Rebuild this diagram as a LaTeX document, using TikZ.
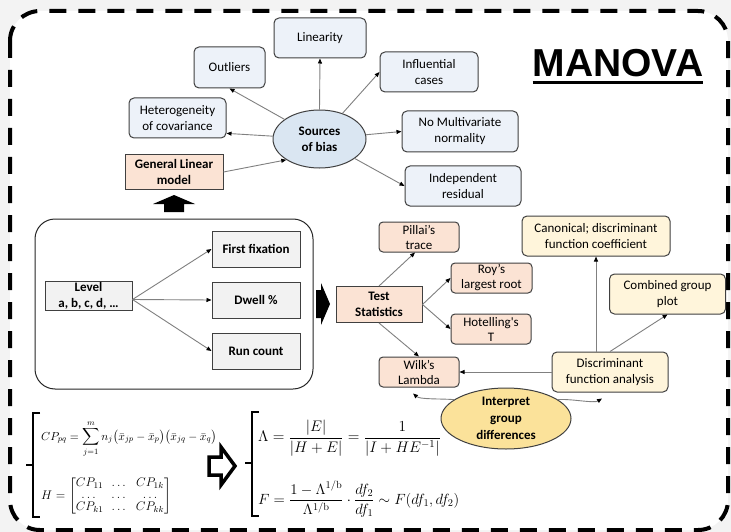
\RequirePackage{fix-cm}
\documentclass[tikz,border=0pt]{standalone}
\usepackage[no-math]{fontspec}
\usepackage{amsmath}
\setmainfont{Carlito}
\newfontfamily\titlefont{Liberation Sans}
\usetikzlibrary{arrows.meta,shapes.geometric,calc}

\definecolor{bggray}{HTML}{F3F3F3}
\definecolor{lightblue}{HTML}{EDF2F9}
\definecolor{biasblue}{HTML}{DAE6F2}
\definecolor{peach}{HTML}{FBE3D4}
\definecolor{lightgrayfill}{HTML}{F2F2F2}
\definecolor{lightyellow}{HTML}{FFF5DB}
\definecolor{gold}{HTML}{FBE29A}
\definecolor{edgegray}{HTML}{404040}
\definecolor{linegray}{HTML}{808080}

\newcommand\boxfont{\fontsize{13}{16}\selectfont}
\newcommand\smallboxfont{\fontsize{13}{15}\selectfont}

\tikzset{
  sz/.style 2 args={minimum width=#1, minimum height=#2},
  conn/.style={draw=linegray, line width=0.9pt,
    -{Triangle[length=5pt,width=4pt,color=black]}},
  box/.style={draw=edgegray, line width=1pt, align=center, inner sep=1pt, font=\boxfont},
  bluebox/.style={box, fill=lightblue, rounded corners=5pt},
  peachsq/.style={box, fill=peach, font=\boxfont\bfseries},
  peachr/.style={box, fill=peach, rounded corners=4pt, font=\smallboxfont},
  graysq/.style={box, fill=lightgrayfill, font=\boxfont\bfseries},
  yellowbox/.style={box, fill=lightyellow, rounded corners=5pt},
  oval/.style={ellipse, draw=edgegray, line width=1pt, align=center, inner sep=0pt,
    font=\boxfont\bfseries},
  blockarrow/.style={fill=black},
  brace/.style={draw=black, line width=1.1pt},
  formula/.style={inner sep=0pt},
}

\begin{document}
\begin{tikzpicture}[x=1pt,y=-1pt]
  % page and dashed frame
  \fill[bggray] (0,0) rectangle (731,532);
  \fill[white, rounded corners=30pt] (10,11) rectangle (728,530);
  \draw[black, line width=4pt, dash pattern=on 17pt off 12pt, rounded corners=30pt]
    (10,11) rectangle (728,530);
  \useasboundingbox (0,0) rectangle (731,532);

  % title
  \node[inner sep=0pt, anchor=base, font=\titlefont\bfseries\fontsize{39}{40}\selectfont]
    (title) at (618,77) {MANOVA};
  \draw[line width=3.5pt] ($(title.base west)+(0,5.5)$) -- ($(title.base east)+(0,5.5)$);

  % sources of bias
  \node[oval, fill=biasblue, sz={93}{58}] (src) at (319.5,139) {Sources\\of bias};
  \node[bluebox, sz={92}{40}] (lin) at (320,38) {Linearity};
  \node[bluebox, sz={71}{41}] (out) at (229.5,67.5) {Outliers};
  \node[bluebox, sz={98}{40}] (infl) at (429,72) {Influential\\cases};
  \node[bluebox, sz={97}{40}] (het) at (177.5,118) {Heterogeneity\\of covariance};
  \node[bluebox, sz={116}{41}] (norm) at (460,131.5) {No Multivariate\\normality};
  \node[bluebox, sz={116}{40}] (indep) at (463,186) {Independent\\residual};
  \node[peachsq, sz={98}{34}] (glm) at (174,172) {General Linear\\model};

  \draw[conn] (src.north) -- (lin.south);
  \draw[conn] (src) -- (out.south);
  \draw[conn] (src) -- ($(het.east)!0.75!(het.south east)$);
  \draw[conn] (src) -- (infl.west);
  \draw[conn] (src) -- (norm.west);
  \draw[conn] (src) -- (indep.west);
  \draw[conn] (glm.east) -- (src.south west);

  % up block arrow
  \fill[blockarrow] (164,212) -- (184,212) -- (184,204) -- (195,204) -- (174,195)
    -- (153,204) -- (164,204) -- cycle;

  % dependent variables group
  \node[draw=black!85, line width=1pt, rounded corners=20pt, sz={278}{170}] (grp) at (174,304) {};
  \node[graysq, sz={87}{27}] (lvl) at (88.5,296) {Level\\a, b, c, d, \dots};
  \node[graysq, sz={88}{36}] (ff) at (256,249) {First fixation};
  \node[graysq, sz={88}{36}] (dw) at (256,300) {Dwell \%};
  \node[graysq, sz={88}{36}] (rc) at (256,351) {Run count};
  \coordinate (lvlout) at ($(lvl.east)+(0,3.5)$);
  \draw[conn] (lvlout) -- (ff.west);
  \draw[conn] (lvlout) -- (dw.west);
  \draw[conn] (lvlout) -- (rc.west);

  % right block arrow
  \fill[blockarrow] (316,290) -- (321,290) -- (321,283) -- (330,304) -- (321,325)
    -- (321,318) -- (316,318) -- cycle;

  % test statistics
  \node[peachsq, sz={86}{36}] (ts) at (379,304.5) {Test\\Statistics};
  \node[peachr, sz={80}{30}] (pil) at (419,237) {Pillai’s\\trace};
  \node[peachr, sz={81}{30}] (roy) at (491.5,278) {Roy’s\\largest root};
  \node[peachr, sz={80}{30}] (hot) at (491,329) {Hotelling\textquotesingle s\\T};
  \node[peachr, sz={80}{30}] (wil) at (419,372) {Wilk’s\\Lambda};
  \draw[conn] (ts.north) -- ($(pil.south)+(-4,0)$);
  \draw[conn] (ts.east) -- (roy.west);
  \draw[conn] (ts.east) -- (hot.west);
  \draw[conn] (ts.south) -- (wil.north);

  % discriminant analysis
  \node[yellowbox, sz={148}{40}] (can) at (596,236) {Canonical; discriminant\\function coefficient};
  \node[yellowbox, sz={116}{40}] (comb) at (667.5,294) {Combined group\\plot};
  \node[yellowbox, sz={116}{40}] (dfa) at (610,372) {Discriminant\\function analysis};
  \draw[conn] (dfa.west) -- (wil.east);
  \draw[conn] (can.south |- dfa.north) -- (can.south);
  \draw[conn] (dfa.north) -- (comb.south);

  % interpretation
  \node[oval, fill=gold, sz={130}{61}, font=\fontsize{13}{17}\selectfont\bfseries]
    (int) at (506,418.5) {Interpret\\group\\differences};
  \coordinate (wilin) at ($(wil.south)+(-6,6)$);
  \coordinate (dfain) at ($(dfa.south)+(-8,6)$);
  \draw[conn] (int.160) .. controls +(-13,-1) and +(7,6) .. (wilin);
  \draw[conn] (int.20) .. controls +(13,-1) and +(-8,5) .. (dfain);

  % formulas: hypothesis matrix
  \draw[brace] (40,413) -- (33,413) -- (33,517) -- (40,517);
  \draw[brace] (33,465) -- (26,465);
  \node[formula, anchor=base west, font=\fontsize{11.6}{14}\selectfont] (cp) at (41,440)
    {$\displaystyle CP_{pq}=\sum_{j=1}^{m} n_j\bigl(\bar{x}_{jp}-\bar{x}_p\bigr)\bigl(\bar{x}_{jq}-\bar{x}_q\bigr)$};
  \node[formula, anchor=west, font=\fontsize{12.5}{14}\selectfont] (hm) at (41,496)
    {$H=\setlength\arraycolsep{4pt}\renewcommand\arraystretch{0.82}\begin{bmatrix}CP_{11}&\dots&CP_{1k}\\ \dots&\dots&\dots\\ CP_{k1}&\dots&CP_{kk}\end{bmatrix}$};

  % hollow block arrow
  \draw[line width=3.5pt, miter limit=10, fill=white] (209,457) -- (221,457) -- (221,447)
    -- (235,466) -- (221,485) -- (221,475) -- (209,475) -- cycle;

  % formulas: test statistics
  \draw[brace] (259,412) -- (252,412) -- (252,516) -- (259,516);
  \draw[brace] (252,463) -- (245,463);
  \node[formula, anchor=west, font=\fontsize{15.3}{19}\selectfont] (lam) at (258,438)
    {$\displaystyle \Lambda=\frac{|E|}{|H+E|}=\frac{1}{|I+HE^{-1}|}$};
  \node[formula, anchor=west, font=\fontsize{14.8}{19}\selectfont] (fst) at (258,499)
    {$\displaystyle F=\frac{1-\Lambda^{1/\mathrm{b}}}{\Lambda^{1/\mathrm{b}}}\cdot\frac{df_2}{df_1}\sim F(df_1,df_2)$};
\end{tikzpicture}
\end{document}
